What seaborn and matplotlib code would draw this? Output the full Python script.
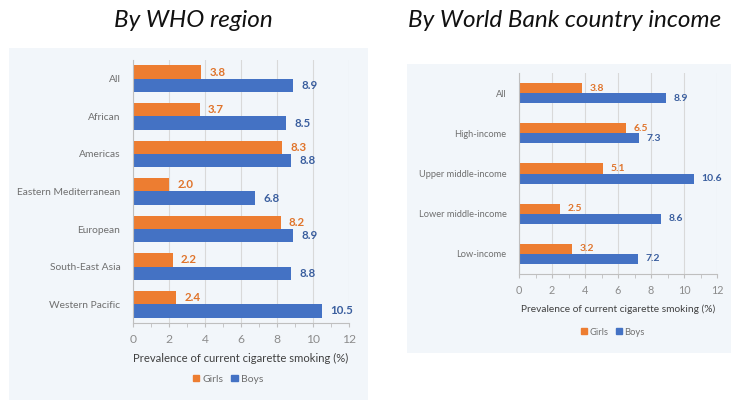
import numpy as np
import pandas as pd
import matplotlib
matplotlib.use('Agg')
from matplotlib import pyplot as plt
from matplotlib.patches import Rectangle
from matplotlib.ticker import MultipleLocator
import seaborn as sns

# WHO region panel
who_regions = ['All', 'African', 'Americas', 'Eastern Mediterranean',
               'European', 'South-East Asia', 'Western Pacific']
who_girls = [3.8, 3.7, 8.3, 2.0, 8.2, 2.2, 2.4]
who_boys = [8.9, 8.5, 8.8, 6.8, 8.9, 8.8, 10.5]

# World Bank income panel
income_groups = ['All', 'High-income', 'Upper middle-income',
                 'Lower middle-income', 'Low-income']
income_girls = [3.8, 6.5, 5.1, 2.5, 3.2]
income_boys = [8.9, 7.3, 10.6, 8.6, 7.2]

sexes = ['Girls', 'Boys']
colors = {'Girls': '#ED7D31', 'Boys': '#4472C4'}
label_colors = {'Girls': '#E0742B', 'Boys': '#3A5E9E'}
xlabel = 'Prevalence of current cigarette smoking (%)'


def to_long(cats, girls, boys):
    # Long format so seaborn can dodge by sex
    df = pd.DataFrame({'category': cats, 'Girls': girls, 'Boys': boys})
    return df.melt(id_vars='category', value_vars=sexes,
                   var_name='sex', value_name='value')


def draw_panel(ax, df, bar_width, legend_xy, fs):
    # fs: font scale, the right panel was shrunk in the source screenshot
    sns.barplot(data=df, y='category', x='value', hue='sex', hue_order=sexes,
                palette=colors, orient='h', width=bar_width, gap=0,
                ax=ax, legend=False, saturation=1, err_kws={'linewidth': 0})
    for cont, sex in zip(ax.containers, sexes):
        ax.bar_label(cont, fmt='%.1f', padding=6 * fs, fontsize=8.3 * fs,
                     fontweight='bold', color=label_colors[sex])
    ax.set_xlim(0, 12)
    ax.xaxis.set_major_locator(MultipleLocator(2))
    ax.xaxis.set_minor_locator(MultipleLocator(1))
    ax.grid(axis='x', which='major', color='#d9d9d9', linewidth=0.8)
    ax.set_axisbelow(True)
    ax.set_facecolor('none')
    for s in ['top', 'right']:
        ax.spines[s].set_visible(False)
    for s in ['left', 'bottom']:
        ax.spines[s].set_color('#bfbfbf')
        ax.spines[s].set_linewidth(0.8)
    ax.tick_params(axis='x', which='both', direction='out', length=3,
                   color='#bfbfbf', labelsize=8.7 * fs, labelcolor='#8c8c8c', pad=5)
    ax.tick_params(axis='y', length=0, labelsize=7.4 * fs, labelcolor='#6f6f6f', pad=9)
    ax.set_ylabel('')
    ax.set_xlabel(xlabel, fontsize=8.1 * fs, color='#404040', labelpad=6)
    handles = [Rectangle((0, 0), 1, 1, color=colors[s]) for s in sexes]
    ax.legend(handles, sexes, loc='center', bbox_to_anchor=legend_xy,
              ncol=2, frameon=False, fontsize=7.5 * fs, labelcolor='#6f6f6f',
              handlelength=0.6, handleheight=0.6, handletextpad=0.3,
              columnspacing=0.8)


plt.rcParams['font.family'] = ['Lato', 'DejaVu Sans']
fig = plt.figure(figsize=(7.31, 4.01), dpi=100)
fig.patch.set_facecolor('white')

# light panel backgrounds
fig.patches.append(Rectangle((0.0123, 0.0025), 0.491, 0.878, transform=fig.transFigure,
                             facecolor='#F2F6FA', edgecolor='none', zorder=-10))
fig.patches.append(Rectangle((0.5568, 0.1197), 0.4432, 0.7207, transform=fig.transFigure,
                             facecolor='#F2F6FA', edgecolor='none', zorder=-10))

ax1 = fig.add_axes([0.1819, 0.1945, 0.2955, 0.6559])
ax2 = fig.add_axes([0.710, 0.3167, 0.2709, 0.5012])

draw_panel(ax1, to_long(who_regions, who_girls, who_boys), 0.71, (0.44, -0.213), 1.0)
draw_panel(ax2, to_long(income_groups, income_girls, income_boys), 0.5, (0.475, -0.289), 0.9)

fig.text(0.264, 0.948, 'By WHO region', fontsize=17.5, style='italic',
         ha='center', va='center', color='#111111')
fig.text(0.773, 0.948, 'By World Bank country income', fontsize=17.5, style='italic',
         ha='center', va='center', color='#111111')

fig.savefig('out.png', dpi=100)
